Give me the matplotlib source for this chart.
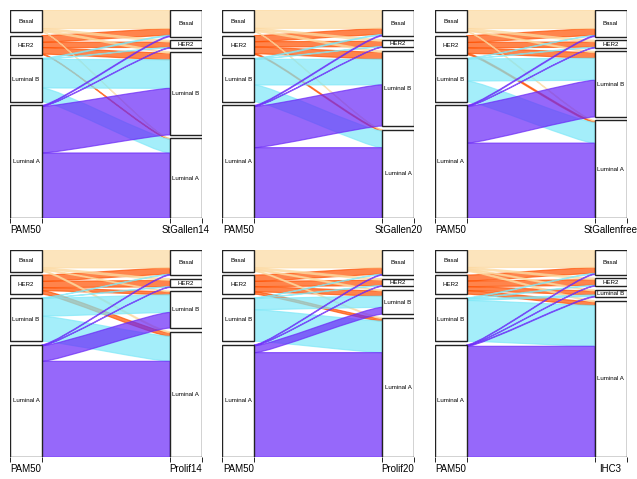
import matplotlib
matplotlib.use("Agg")
import matplotlib.pyplot as plt
from matplotlib.path import Path
from matplotlib.patches import PathPatch, Rectangle

plt.rcParams['font.family'] = ['Liberation Sans', 'DejaVu Sans']

# category order, bottom to top on every axis
levels = ["Luminal A", "Luminal B", "HER2", "Basal"]
left_name = "PAM50"
right_names = ["StGallen14", "StGallen20", "StGallenfree",
               "Prolif14", "Prolif20", "IHC3"]

# counts: rows = PAM50 class, columns = other classification (order of `levels`)
stgallen14 = [[328, 236, 2, 4], [70, 145, 2, 4], [3, 33, 27, 34], [1, 8, 9, 94]]
stgallen20 = [[355, 209, 2, 4], [85, 130, 2, 4], [5, 34, 27, 31], [2, 8, 9, 93]]
stgallenfree = [[378, 186, 2, 4], [105, 112, 2, 2], [7, 28, 27, 35], [3, 6, 9, 94]]
prolif14 = [[486, 79, 2, 3], [127, 90, 2, 2], [18, 15, 32, 32], [6, 4, 9, 93]]
prolif20 = [[530, 35, 2, 3], [160, 57, 2, 2], [12, 26, 27, 32], [5, 6, 8, 93]]
ihc3 = [[562, 3, 2, 3], [207, 8, 3, 3], [18, 20, 29, 30], [7, 6, 8, 91]]
tables = [stgallen14, stgallen20, stgallenfree, prolif14, prolif20, ihc3]

# flow colour by PAM50 class
flow_colors = ["#6a28f8", "#7ee8f8", "#ff5000", "#fcd9a0"]
flow_alpha = 0.7
draw_order = [2, 3, 1, 0]  # HER2 at the back, Luminal A on top

GAP = 0.05
CW = 0.1
XW = 0.1


def stack(flows, axis_idx):
    n = sum(f for _, _, f in flows)
    key = (lambda fl: (fl[0], fl[1])) if axis_idx == 0 else (lambda fl: (fl[1], fl[0]))
    order = sorted(range(len(flows)), key=lambda k: key(flows[k]))
    ncat = len(set(key(flows[k])[0] for k in order))
    mx = max(ncat - 1, 1)
    pos = {}
    cum = 0.0
    g = 0
    prev = None
    for k in order:
        c = key(flows[k])[0]
        if prev is not None and c != prev:
            g += 1
        prev = c
        y0 = cum / n * (1 - GAP) + g / mx * GAP
        cum += flows[k][2]
        y1 = cum / n * (1 - GAP) + g / mx * GAP
        pos[k] = (y0, y1)
    return pos


W, H = 637, 479
fig = plt.figure(figsize=(W / 100, H / 100), dpi=100)
fig.patch.set_facecolor("white")

pw, ph = 191.7, 207.7
for p, (tab, rname) in enumerate(zip(tables, right_names)):
    r, c = divmod(p, 3)
    x0 = 10 + 212.4 * c
    y0 = 10 + 239.5 * r
    ax = fig.add_axes([x0 / W, 1 - (y0 + ph) / H, pw / W, ph / H])
    ax.set_xlim(1 - CW, 2 + CW)
    ax.set_ylim(0, 1)

    flows = [(i, j, tab[i][j]) for i in range(4) for j in range(4) if tab[i][j] > 0]
    lpos = stack(flows, 0)
    rpos = stack(flows, 1)

    for cls in draw_order:
        for k, (i, j, f) in enumerate(flows):
            if i != cls:
                continue
            b1, t1 = lpos[k]
            b2, t2 = rpos[k]
            xa, xb = 1 + CW, 2 - CW
            verts = [(xa, b1), (xa, t1),
                     (xa + XW, t1), (xb - XW, t2), (xb, t2),
                     (xb, b2),
                     (xb - XW, b2), (xa + XW, b1), (xa, b1),
                     (xa, b1)]
            codes = [Path.MOVETO, Path.LINETO,
                     Path.CURVE4, Path.CURVE4, Path.CURVE4,
                     Path.LINETO,
                     Path.CURVE4, Path.CURVE4, Path.CURVE4,
                     Path.CLOSEPOLY]
            col = flow_colors[i]
            ax.add_patch(PathPatch(Path(verts, codes), facecolor=col, edgecolor=col,
                                   alpha=flow_alpha, lw=0.85, zorder=2))

    # category boxes
    for axis_idx, pos, xc in ((0, lpos, 1), (1, rpos, 2)):
        for cat in range(4):
            ks = [k for k, fl in enumerate(flows) if fl[axis_idx] == cat]
            if not ks:
                continue
            lo = min(pos[k][0] for k in ks)
            hi = max(pos[k][1] for k in ks)
            ax.add_patch(Rectangle((xc - CW, lo), 2 * CW, hi - lo, facecolor="white",
                                   edgecolor="#222222", lw=1.0, zorder=3))
            ax.text(xc, (lo + hi) / 2, levels[cat], ha="center", va="center",
                    fontsize=4.4, zorder=4)

    for s in ax.spines.values():
        s.set_visible(False)
    ax.set_yticks([])
    ax.set_xticks([1 - CW, 1 + CW, 2 - CW, 2 + CW])
    ax.set_xticklabels([])
    ax.tick_params(axis="x", which="major", length=3.6, width=0.6, color="black")
    ax.set_xticks([1, 2], minor=True)
    ax.set_xticklabels([left_name, rname], minor=True)
    ax.tick_params(axis="x", which="minor", length=0, pad=8.6, labelsize=7.0)
    for lab in ax.get_xticklabels(minor=True):
        lab.set_va("center")

fig.savefig("out.png", dpi=100, facecolor="white")
